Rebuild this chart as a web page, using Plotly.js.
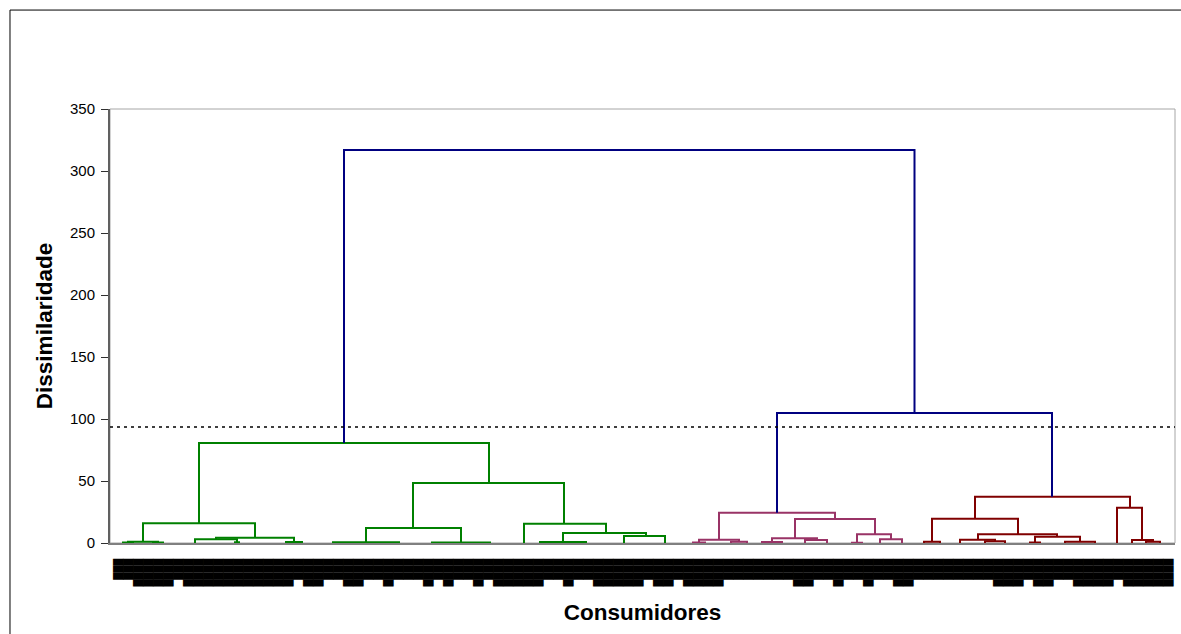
<!DOCTYPE html>
<html>
<head>
<meta charset="utf-8">
<script src="https://cdn.plot.ly/plotly-3.0.1.min.js"></script>
<style>
  html, body { margin: 0; padding: 0; background: #ffffff; }
  #chart { width: 1181px; height: 634px; }
</style>
</head>
<body>
<div id="chart"></div>
<script>
// ---- Dendrogram data (x in consumer-position units, heights in dissimilarity) ----
// Each link: left child x, right child x, left child height, right child height, merge height
const greenXL = [8.6, 3.0, 1.5, 1.0, 4.0, 10.3, 8.2, 12.2, 17.3, 30.0, 25.3, 22.0, 31.9, 41.1, 45.0, 42.7, 51.1];
const greenXR = [37.6, 14.2, 4.5, 2.0, 5.0, 18.1, 12.4, 12.6, 18.9, 45.1, 34.8, 28.6, 37.7, 49.3, 53.3, 47.3, 55.2];
const greenHL = [16.0, 1.0, 0.4, 0, 0, 3.0, 0, 0, 0, 12.1, 0.7, 0, 0, 0, 0.8, 0, 0];
const greenHR = [48.4, 4.3, 0.4, 0, 0, 0.8, 0.6, 0, 0, 15.6, 0.5, 0, 0, 8.0, 5.6, 0, 0];
const greenH  = [80.6, 16.0, 1.0, 0.4, 0.4, 4.3, 3.0, 0.6, 0.8, 48.4, 12.1, 0.7, 0.5, 15.6, 8.0, 0.8, 5.6];

const navyXL = [23.1, 66.4];
const navyXR = [80.15, 93.9];
const navyHL = [80.6, 24.3];
const navyHR = [104.8, 37.3];
const navyH  = [316.9, 104.8];

const pinkXL = [60.6, 68.2, 58.6, 61.8, 58.0, 65.9, 64.9, 69.2, 74.4, 76.7, 73.9];
const pinkXR = [72.2, 76.2, 62.6, 63.4, 59.2, 70.4, 66.9, 71.4, 77.8, 78.9, 74.9];
const pinkHL = [2.7, 3.8, 0.4, 0, 0, 0.9, 0, 0, 0.3, 0, 0];
const pinkHR = [19.4, 7.0, 1.0, 0, 0, 2.5, 0, 0, 3.0, 0, 0];
const pinkH  = [24.3, 19.4, 2.7, 1.0, 0.4, 3.8, 0.9, 2.5, 7.0, 3.0, 0.3];

const redXL = [86.2, 81.9, 81.1, 86.5, 84.7, 87.2, 92.2, 91.7, 95.2, 100.4, 101.9, 103.3];
const redXR = [101.7, 90.5, 82.7, 94.4, 88.2, 89.2, 96.7, 92.7, 98.2, 102.9, 104.0, 104.7];
const redHL = [19.6, 1.0, 0, 2.7, 0, 0, 0.5, 0, 0, 0, 0, 0];
const redHR = [28.5, 7.0, 0, 5.1, 1.5, 0, 1.0, 0, 0, 2.4, 1.0, 0];
const redH  = [37.3, 19.6, 1.0, 7.0, 2.7, 1.5, 5.1, 0.5, 1.0, 28.5, 2.4, 1.0];

// Truncation level (dotted line)
const cutLevel = [93.5];

// Y axis ticks
const yTicks = [0, 50, 100, 150, 200, 250, 300, 350];

// Consumer labels (illegible, overlapping in the original)
const consumerLabels = [
 "███","███","████","████","████","████","███","████","████","████",
 "████","████","████","████","████","████","████","████","███","████",
 "████","███","███","████","████","███","███","████","███","███",
 "███","████","███","████","███","███","████","███","████","████",
 "████","████","████","███","███","████","███","███","████","████",
 "████","████","████","███","████","████","███","████","████","████",
 "████","███","███","███","███","███","███","███","████","████",
 "███","███","████","███","███","████","███","███","████","████",
 "███","███","███","███","███","███","███","███","████","████",
 "████","███","████","████","███","███","████","████","████","████",
 "███","████","████","████","████","████"
];

function buildPath(xl, xr, hl, hr, h) {
  const xs = [], ys = [];
  for (let i = 0; i < xl.length; i++) {
    xs.push(xl[i], xl[i], xr[i], xr[i], null);
    ys.push(hl[i], h[i], h[i], hr[i], null);
  }
  return {xs, ys};
}

function linkTrace(xl, xr, hl, hr, h, color) {
  const p = buildPath(xl, xr, hl, hr, h);
  return {
    x: p.xs, y: p.ys, type: 'scatter', mode: 'lines',
    line: {color: color, width: 2}, hoverinfo: 'skip', showlegend: false,
    connectgaps: false
  };
}

const traces = [
  linkTrace(greenXL, greenXR, greenHL, greenHR, greenH, '#008000'),
  linkTrace(pinkXL, pinkXR, pinkHL, pinkHR, pinkH, '#993366'),
  linkTrace(redXL, redXR, redHL, redHR, redH, '#800000'),
  linkTrace(navyXL, navyXR, navyHL, navyHR, navyH, '#000080')
];

const titleFont = {family: 'Liberation Sans, Arial, sans-serif', size: 22.5, weight: 'bold', color: '#000000'};

const layout = {
  width: 1181, height: 634,
  margin: {l: 110, r: 6, t: 109, b: 91, pad: 0},
  paper_bgcolor: '#ffffff', plot_bgcolor: '#ffffff',
  font: {family: 'Liberation Sans, Arial, sans-serif', color: '#000000', size: 15},
  showlegend: false,
  xaxis: {
    range: [-0.3, 106.2],
    showgrid: false, zeroline: false,
    showline: true, linecolor: '#808080', linewidth: 2,
    layer: 'below traces',
    ticks: '',
    tickmode: 'array',
    tickvals: consumerLabels.map((_, i) => i + 0.5),
    ticktext: consumerLabels,
    tickangle: 90,
    tickfont: {family: 'DejaVu Sans', size: 9, color: '#000000'},
    ticklabelstandoff: 12,
    title: {text: 'Consumidores', font: titleFont, standoff: 18},
    fixedrange: true
  },
  yaxis: {
    range: [0, 350],
    tickmode: 'array', tickvals: yTicks,
    showgrid: false, zeroline: false,
    showline: true, linecolor: '#606060', linewidth: 2,
    layer: 'below traces',
    ticks: 'outside', ticklen: 7, tickwidth: 1, tickcolor: '#303030',
    tickfont: {family: 'Liberation Sans, Arial, sans-serif', size: 15, color: '#000000'},
    ticklabelstandoff: 3,
    title: {text: 'Dissimilaridade', font: titleFont, standoff: 11},
    fixedrange: true
  },
  shapes: [
    // plot area border
    {type: 'rect', xref: 'paper', yref: 'paper', x0: 0, x1: 1, y0: 0, y1: 1,
     line: {color: '#a6a6a6', width: 1}, layer: 'below'},
    // truncation line
    {type: 'line', xref: 'paper', yref: 'y', x0: 0, x1: 1, y0: cutLevel[0], y1: cutLevel[0],
     line: {color: '#000000', width: 1.5, dash: '3px,4px'}, layer: 'above'},
    // outer chart frame
    {type: 'rect', xref: 'paper', yref: 'paper', x0: -0.0939, x1: 1.01, y0: -0.23, y1: 1.228,
     line: {color: '#000000', width: 1}, layer: 'above'}
  ]
};

Plotly.newPlot('chart', traces, layout, {displayModeBar: false, staticPlot: true});
</script>
</body>
</html>
